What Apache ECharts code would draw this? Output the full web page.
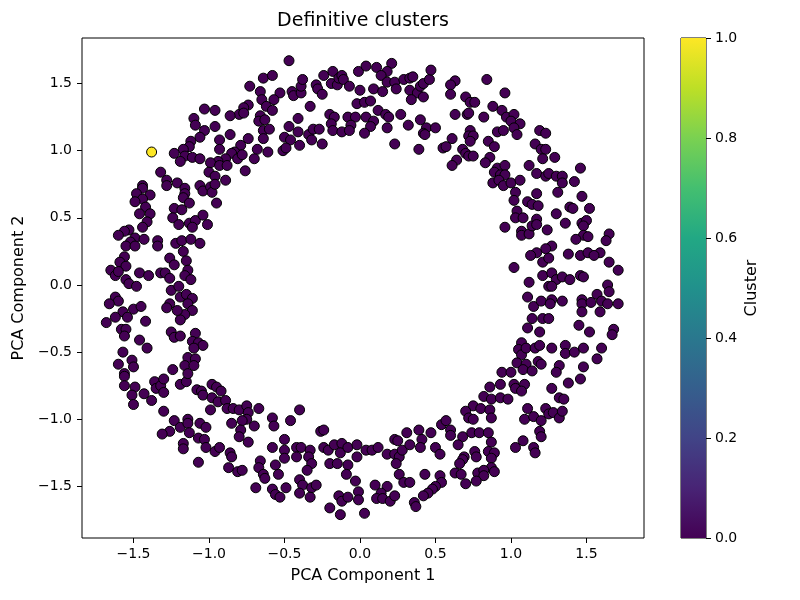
<!DOCTYPE html>
<html>
<head>
<meta charset="utf-8">
<title>Definitive clusters</title>
<script src="https://cdn.jsdelivr.net/npm/echarts@6/dist/echarts.min.js"></script>
<style>
    html, body { margin: 0; padding: 0; background: #fff; }
    #chart { width: 800px; height: 600px; }
</style>
</head>
<body>
<div id="chart"></div>
<script>
// PCA coordinates
const cluster0Points = [
    [-0.64, 1.54], [-0.73, 1.48], [-0.66, 1.44], [-0.65, 1.38], [-0.62, 1.33], [-0.74, 1.34], [-0.77, 1.32], [-0.80, 1.27], [-0.77, 1.28], [-0.86, 1.26],
    [-0.66, 1.26], [-0.67, 1.22], [-0.63, 1.23], [-0.64, 1.15], [-0.60, 1.16], [-1.03, 1.31], [-0.96, 1.30], [-1.10, 1.24], [-1.09, 1.19], [-0.96, 1.18],
    [-1.03, 1.15], [-1.06, 1.10], [-1.12, 1.07], [-1.13, 1.03], [-1.17, 1.01], [-1.23, 0.98], [-1.16, 0.96], [-1.19, 0.92], [-1.11, 0.95], [-1.06, 0.94],
    [-0.93, 1.08], [-0.86, 1.12], [-0.74, 1.09], [-0.93, 1.01], [-0.79, 1.04], [-0.83, 0.99], [-0.85, 0.98], [-0.89, 0.94], [-0.94, 0.92], [-0.99, 0.91],
    [-0.93, 0.89], [-0.88, 0.89], [-0.81, 0.94], [-0.78, 0.97], [-0.68, 1.01], [-0.61, 0.99], [-0.70, 0.94], [-0.64, 1.09], [-0.76, 0.85], [-1.00, 0.84],
    [-0.96, 0.81], [-0.89, 0.78], [-1.32, 0.84], [-1.28, 0.78], [-1.28, 0.74], [-1.21, 0.76], [-1.16, 0.72], [-1.16, 0.68], [-1.17, 0.65], [-1.13, 0.61],
    [-1.06, 0.74], [-1.04, 0.70], [-0.99, 0.73], [-0.98, 0.69], [-0.96, 0.75], [-0.95, 0.61], [-1.44, 0.74], [-1.44, 0.72], [-1.48, 0.68], [-1.39, 0.67],
    [-1.44, 0.64], [-1.49, 0.62], [-1.42, 0.58], [-1.23, 0.57], [-1.18, 0.56],
    [-0.47, 1.67], [-0.58, 1.56], [-0.53, 1.43], [-0.57, 1.38], [-0.58, 1.30], [-0.45, 1.44], [-0.44, 1.41], [-0.39, 1.43], [-0.39, 1.48], [-0.38, 1.53],
    [-0.29, 1.49], [-0.28, 1.46], [-0.25, 1.42], [-0.24, 1.56], [-0.18, 1.59], [-0.19, 1.50], [-0.15, 1.49], [-0.14, 1.54], [-0.12, 1.56], [-0.11, 1.53],
    [-0.07, 1.48], [-0.01, 1.59], [0.04, 1.63], [0.11, 1.62], [0.21, 1.65], [0.18, 1.59], [0.14, 1.56], [0.18, 1.51], [0.23, 1.51], [0.24, 1.46],
    [0.29, 1.53], [0.33, 1.54], [0.35, 1.55], [0.33, 1.45], [0.38, 1.43], [0.34, 1.38], [0.42, 1.40], [0.40, 1.48], [0.42, 1.50], [0.46, 1.53],
    [0.47, 1.60], [0.09, 1.46], [0.00, 1.45], [0.15, 1.44], [-0.02, 1.35], [0.03, 1.36], [0.07, 1.37], [-0.33, 1.33], [-0.41, 1.24], [-0.47, 1.18],
    [-0.41, 1.14], [-0.50, 1.10], [-0.46, 1.08], [-0.51, 1.00], [-0.49, 1.02], [-0.40, 1.04], [-0.34, 1.12], [-0.31, 1.16], [-0.32, 1.08], [-0.27, 1.16],
    [-0.25, 1.05], [-0.20, 1.27], [-0.17, 1.25], [-0.19, 1.20], [-0.18, 1.15], [-0.12, 1.14], [-0.08, 1.25], [-0.03, 1.25], [-0.06, 1.19], [-0.07, 1.15],
    [0.04, 1.25], [0.09, 1.22], [0.07, 1.18], [0.03, 1.13], [0.12, 1.30], [0.17, 1.27], [0.19, 1.25], [0.18, 1.17], [0.27, 1.27], [0.32, 1.19],
    [0.40, 1.23], [0.44, 1.17], [0.42, 1.13], [0.43, 1.12], [0.50, 1.17], [0.23, 1.05], [0.39, 1.01], [0.55, 1.02],
    [0.63, 1.52], [0.60, 1.49], [0.60, 1.42], [0.84, 1.53], [0.70, 1.40], [0.73, 1.36], [0.76, 1.36], [0.96, 1.43], [0.63, 1.27], [0.71, 1.27],
    [0.72, 1.28], [0.82, 1.25], [0.88, 1.33], [0.94, 1.30], [0.97, 1.25], [1.02, 1.27], [1.00, 1.22], [1.06, 1.20], [1.02, 1.17], [1.04, 1.12],
    [0.91, 1.14], [0.95, 1.15], [1.19, 1.15], [1.23, 1.13], [0.73, 1.15], [0.72, 1.11], [0.75, 1.11], [0.61, 1.09], [0.57, 1.03], [0.73, 1.07],
    [0.85, 1.07], [0.89, 1.03], [0.68, 1.01], [0.70, 0.98], [0.72, 0.96], [0.75, 0.96], [0.64, 0.93], [0.61, 0.89], [0.86, 0.95], [0.83, 0.91],
    [0.91, 0.87], [0.89, 0.84], [0.96, 0.89], [0.93, 0.82], [0.96, 0.82], [0.88, 0.76], [0.92, 0.78], [0.95, 0.74], [1.00, 0.76], [1.06, 0.78],
    [1.03, 0.69], [1.02, 0.63], [1.11, 0.62], [1.14, 0.60], [1.18, 0.59], [1.17, 0.68], [1.16, 1.05], [1.20, 1.01], [1.23, 1.01], [1.21, 0.94],
    [1.29, 0.95], [1.12, 0.89], [1.17, 0.83], [1.23, 0.81], [1.25, 0.83], [1.30, 0.81], [1.34, 0.81], [1.34, 0.76], [1.31, 0.69], [1.42, 0.77],
    [1.46, 0.87], [1.47, 0.66], [1.39, 0.58], [1.41, 0.57], [1.52, 0.57],
    [-1.46, 0.53], [-1.39, 0.53], [-1.41, 0.47], [-1.44, 0.43], [-1.24, 0.50], [-1.20, 0.45], [-1.13, 0.46], [-1.09, 0.48], [-1.04, 0.52], [-1.11, 0.43],
    [-1.01, 0.45], [-1.53, 0.41], [-1.56, 0.40], [-1.60, 0.37], [-1.49, 0.35], [-1.52, 0.32], [-1.55, 0.29], [-1.49, 0.29], [-1.43, 0.34], [-1.34, 0.33],
    [-1.34, 0.29], [-1.22, 0.31], [-1.18, 0.33], [-1.12, 0.34], [-1.06, 0.31], [-1.17, 0.25], [-1.56, 0.21], [-1.59, 0.17], [-1.55, 0.14], [-1.26, 0.20],
    [-1.23, 0.15], [-1.15, 0.18], [-1.14, 0.11], [-1.65, 0.11], [-1.62, 0.07], [-1.60, 0.10], [-1.46, 0.09], [-1.40, 0.07], [-1.32, 0.09], [-1.29, 0.09],
    [-1.26, 0.05], [-1.16, 0.07], [-1.12, 0.04], [-1.55, 0.04], [-1.53, 0.01], [-1.48, -0.01], [-1.25, -0.04], [-1.20, -0.01], [-1.19, -0.09], [-1.15, -0.07],
    [-1.11, -0.10], [-1.14, -0.14], [-1.11, -0.19], [-1.16, -0.22], [-1.19, -0.26], [-1.26, -0.14], [-1.28, -0.17], [-1.21, -0.19], [-1.62, -0.09], [-1.60, -0.12],
    [-1.66, -0.14], [-1.57, -0.20], [-1.62, -0.24], [-1.54, -0.24], [-1.68, -0.28], [-1.50, -0.18], [-1.45, -0.16], [-1.42, -0.27], [-1.58, -0.33], [-1.55, -0.33],
    [-1.56, -0.38], [-1.46, -0.41], [-1.41, -0.47], [-1.25, -0.35], [-1.23, -0.39], [-1.19, -0.38], [-1.09, -0.36], [-1.11, -0.42], [-1.07, -0.43], [-1.04, -0.45],
    [-1.10, -0.47], [-1.57, -0.50], [-1.51, -0.56], [-1.60, -0.59], [-1.50, -0.61], [-1.14, -0.54], [-1.09, -0.55], [-1.16, -0.60], [-1.10, -0.60], [-1.24, -0.63],
    [1.04, 0.55], [1.03, 0.50], [1.08, 0.50], [0.96, 0.43], [1.07, 0.40], [1.07, 0.37], [1.12, 0.38], [1.14, 0.44], [1.17, 0.49], [1.17, 0.45],
    [1.24, 0.41], [1.30, 0.53], [1.36, 0.46], [1.47, 0.46], [1.50, 0.48], [1.48, 0.44], [1.48, 0.37], [1.43, 0.34], [1.51, 0.36], [1.65, 0.38],
    [1.63, 0.33], [1.27, 0.29], [1.23, 0.27], [1.17, 0.24], [1.13, 0.22], [1.21, 0.17], [1.25, 0.20], [1.38, 0.23], [1.46, 0.22], [1.51, 0.24],
    [1.59, 0.24], [1.55, 0.22], [1.65, 0.17], [1.71, 0.11], [1.02, 0.13], [1.12, 0.02], [1.21, 0.07], [1.27, 0.09], [1.30, 0.04], [1.34, 0.06],
    [1.39, 0.04], [1.46, 0.07], [1.48, 0.06], [1.25, -0.01], [1.27, -0.01], [1.64, 0.00], [1.65, -0.05], [1.11, -0.09], [1.15, -0.16], [1.20, -0.12],
    [1.27, -0.11], [1.26, -0.14], [1.34, -0.12], [1.47, -0.11], [1.47, -0.14], [1.53, -0.13], [1.57, -0.07], [1.60, -0.12], [1.64, -0.14], [1.71, -0.14],
    [1.59, -0.20], [1.47, -0.20], [1.14, -0.25], [1.21, -0.25], [1.25, -0.25], [1.11, -0.32], [1.19, -0.35], [1.45, -0.30], [1.52, -0.35], [1.68, -0.33],
    [1.67, -0.37], [1.07, -0.43], [1.05, -0.48], [1.07, -0.52], [1.10, -0.47], [1.16, -0.47], [1.19, -0.45], [1.27, -0.47], [1.36, -0.45], [1.36, -0.51],
    [1.42, -0.50], [1.48, -0.47], [1.60, -0.47], [1.57, -0.55], [1.04, -0.58], [1.10, -0.59], [1.18, -0.57], [1.20, -0.59], [1.32, -0.60], [1.48, -0.61],
    [-1.56, -0.66], [-1.56, -0.68], [-1.56, -0.75], [-1.49, -0.76], [-1.51, -0.82], [-1.50, -0.89], [-1.43, -0.81], [-1.38, -0.86], [-1.36, -0.72], [-1.35, -0.77],
    [-1.32, -0.75], [-1.30, -0.70], [-1.30, -0.80], [-1.19, -0.74], [-1.15, -0.72], [-1.14, -0.66], [-1.30, -0.94], [-1.08, -0.78], [-1.05, -0.79], [-1.04, -0.82],
    [-0.98, -0.74], [-0.95, -0.76], [-0.92, -0.79], [-0.98, -0.84], [-0.94, -0.87], [-0.89, -0.86], [-0.99, -0.93], [-0.88, -0.92], [-0.84, -0.92], [-0.80, -0.93],
    [-0.75, -0.90], [-0.74, -0.95], [-0.67, -0.92], [-0.75, -1.00], [-0.78, -1.01], [-0.85, -1.03], [-0.79, -1.08], [-0.80, -1.13], [-0.70, -1.05], [-0.74, -1.17],
    [-1.23, -1.01], [-1.26, -1.09], [-1.31, -1.11], [-1.19, -1.06], [-1.14, -1.00], [-1.14, -1.03], [-1.13, -1.10], [-1.06, -1.03], [-1.02, -1.06], [-1.07, -1.14],
    [-1.03, -1.15], [-1.02, -1.21], [-1.17, -1.18], [-1.17, -1.22], [-0.96, -1.24], [-0.93, -1.21], [-0.86, -1.25], [-0.85, -1.28], [-0.87, -1.36], [-0.81, -1.39],
    [-0.78, -1.38], [-1.07, -1.32], [-0.66, -1.31], [-0.67, -1.36], [-0.64, -1.41], [-0.63, -1.44], [-0.69, -1.51],
    [-0.40, -0.93], [-0.58, -0.99], [-0.57, -1.05], [-0.46, -1.01], [-0.26, -1.09], [-0.24, -1.08], [-0.58, -1.21], [-0.50, -1.15], [-0.50, -1.23], [-0.50, -1.29],
    [-0.42, -1.21], [-0.39, -1.21], [-0.42, -1.28], [-0.33, -1.23], [-0.34, -1.28], [-0.32, -1.33], [-0.56, -1.34], [-0.54, -1.41], [-0.35, -1.38], [-0.40, -1.45],
    [-0.38, -1.49], [-0.32, -1.51], [-0.29, -1.49], [-0.40, -1.55], [-0.33, -1.58], [-0.58, -1.52], [-0.56, -1.56], [-0.53, -1.58], [-0.49, -1.51], [-0.24, -1.21],
    [-0.21, -1.23], [-0.17, -1.19], [-0.12, -1.18], [-0.13, -1.25], [-0.08, -1.21], [-0.20, -1.33], [-0.15, -1.33], [-0.08, -1.34], [-0.09, -1.41], [-0.02, -1.19],
    [-0.02, -1.28], [0.04, -1.23], [0.08, -1.23], [0.12, -1.21], [-0.03, -1.46], [-0.01, -1.54], [-0.14, -1.57], [-0.12, -1.61], [-0.08, -1.58], [-0.01, -1.60],
    [-0.20, -1.66], [-0.13, -1.71], [0.03, -1.70], [0.10, -1.49], [0.18, -1.50], [0.14, -1.55], [0.11, -1.59], [0.15, -1.59], [0.20, -1.61], [0.23, -1.57],
    [0.18, -1.26], [0.23, -1.15], [0.25, -1.16], [0.23, -1.26], [0.26, -1.28], [0.24, -1.33], [0.28, -1.23], [0.31, -1.10], [0.33, -1.19], [0.39, -1.08],
    [0.41, -1.15], [0.40, -1.21], [0.47, -1.10], [0.50, -1.21], [0.53, -1.26], [0.54, -1.04], [0.26, -1.41], [0.29, -1.47], [0.33, -1.47], [0.43, -1.41],
    [0.53, -1.42], [0.54, -1.47], [0.50, -1.50], [0.48, -1.52], [0.45, -1.55], [0.42, -1.57], [0.36, -1.62], [0.37, -1.65],
    [0.94, -0.65], [1.00, -0.65], [1.08, -0.63], [1.14, -0.64], [1.30, -0.65], [1.46, -0.70], [1.38, -0.73], [1.27, -0.77], [1.32, -0.84], [1.35, -0.85],
    [0.86, -0.76], [0.93, -0.74], [1.02, -0.74], [1.09, -0.74], [1.03, -0.77], [1.07, -0.79], [0.82, -0.83], [0.87, -0.85], [0.93, -0.84], [0.98, -0.85],
    [0.75, -0.90], [0.80, -0.92], [0.70, -0.94], [0.72, -0.99], [0.75, -1.00], [0.86, -0.93], [0.87, -0.99], [0.57, -1.01], [0.60, -1.08], [0.60, -1.12],
    [0.68, -1.13], [0.65, -1.19], [0.74, -1.10], [0.79, -1.10], [0.85, -1.10], [0.87, -1.17], [1.11, -0.92], [1.09, -1.00], [1.15, -0.98], [1.20, -1.01],
    [1.23, -0.92], [1.25, -0.96], [1.28, -0.95], [1.32, -0.99], [1.34, -0.94], [1.19, -1.09], [1.20, -1.13], [1.08, -1.16], [1.03, -1.21], [1.15, -1.21],
    [1.16, -1.25], [0.76, -1.24], [0.77, -1.28], [0.69, -1.28], [0.68, -1.30], [0.66, -1.33], [0.85, -1.24], [0.89, -1.25], [0.87, -1.29], [0.87, -1.36],
    [0.89, -1.39], [0.63, -1.40], [0.67, -1.41], [0.78, -1.40], [0.82, -1.38], [0.82, -1.42], [0.77, -1.46], [0.70, -1.48],
];
const cluster1Points = [
    [-1.38, 0.99],
];

const xTicks = [-1.5, -1.0, -0.5, 0.0, 0.5, 1.0, 1.5];
const yTicks = [-1.5, -1.0, -0.5, 0.0, 0.5, 1.0, 1.5];
const colorbarTicks = [0.0, 0.2, 0.4, 0.6, 0.8, 1.0];
const colorbarValue = [1];

const viridis = ['#440154', '#482475', '#414487', '#355f8d', '#2a788e', '#21918c',
    '#22a884', '#44bf70', '#7ad151', '#bddf26', '#fde725'];

const font = 'DejaVu Sans';

function fmtTick(v) {
    const s = Math.abs(v).toFixed(1);
    return v < 0 ? '\u2212' + s : s;
}

const chart = echarts.init(document.getElementById('chart'));
chart.setOption({
    backgroundColor: '#fff',
    animation: false,
    title: {
        text: 'Definitive clusters',
        left: 363,
        top: 12,
        padding: 0,
        textAlign: 'center',
        textStyle: {
            color: '#000',
            fontFamily: font,
            fontSize: 19,
            fontWeight: 'normal',
        },
    },
    grid: [
        {
            left: 82,
            top: 38,
            width: 562,
            height: 500,
            show: true,
            borderColor: '#000',
            borderWidth: 1,
            backgroundColor: '#fff',
        },
        {
            left: 681,
            top: 38,
            width: 25,
            height: 500,
            show: true,
            borderColor: '#000',
            borderWidth: 1,
            backgroundColor: 'transparent',
        },
    ],
    xAxis: [
        {
            type: 'value',
            min: -1.841,
            max: 1.881,
            name: 'PCA Component 1',
            nameLocation: 'middle',
            nameGap: 30,
            nameTextStyle: {color: '#000', fontFamily: font, fontSize: 16},
            axisLine: {show: false, onZero: false},
            axisTick: {
                show: true,
                length: 5,
                customValues: xTicks,
                lineStyle: {color: '#000'},
            },
            axisLabel: {
                customValues: xTicks,
                margin: 9,
                color: '#000',
                fontFamily: font,
                fontSize: 14,
                formatter: fmtTick,
            },
            splitLine: {show: false},
        },
        {
            gridIndex: 1,
            type: 'category',
            data: ['cluster'],
            show: false,
        },
    ],
    yAxis: [
        {
            type: 'value',
            min: -1.884,
            max: 1.839,
            name: 'PCA Component 2',
            nameLocation: 'middle',
            nameRotate: 90,
            nameGap: 47,
            nameTextStyle: {color: '#000', fontFamily: font, fontSize: 16},
            axisLine: {show: false, onZero: false},
            axisTick: {
                show: true,
                length: 5,
                customValues: yTicks,
                lineStyle: {color: '#000'},
            },
            axisLabel: {
                customValues: yTicks,
                margin: 10,
                color: '#000',
                fontFamily: font,
                fontSize: 14,
                formatter: fmtTick,
            },
            splitLine: {show: false},
        },
        {
            gridIndex: 1,
            type: 'value',
            position: 'right',
            min: 0,
            max: 1,
            name: 'Cluster',
            nameLocation: 'middle',
            nameRotate: 90,
            nameGap: 38,
            nameTextStyle: {color: '#000', fontFamily: font, fontSize: 16},
            axisLine: {show: false, onZero: false},
            axisTick: {
                show: true,
                length: 5,
                customValues: colorbarTicks,
                lineStyle: {color: '#000'},
            },
            axisLabel: {
                customValues: colorbarTicks,
                margin: 9,
                color: '#000',
                fontFamily: font,
                fontSize: 14,
                formatter: (v) => v.toFixed(1),
            },
            splitLine: {show: false},
        },
    ],
    series: [
        {
            type: 'scatter',
            name: 'cluster 0',
            xAxisIndex: 0,
            yAxisIndex: 0,
            symbolSize: 10,
            itemStyle: {
                color: viridis[0],
                borderColor: '#000',
                borderWidth: 1,
                opacity: 1,
            },
            data: cluster0Points,
        },
        {
            type: 'scatter',
            name: 'cluster 1',
            xAxisIndex: 0,
            yAxisIndex: 0,
            symbolSize: 10,
            itemStyle: {
                color: viridis[viridis.length - 1],
                borderColor: '#000',
                borderWidth: 1,
                opacity: 1,
            },
            data: cluster1Points,
        },
        {
            type: 'bar',
            name: 'colorbar',
            xAxisIndex: 1,
            yAxisIndex: 1,
            barWidth: '100%',
            silent: true,
            itemStyle: {
                color: {
                    type: 'linear',
                    x: 0,
                    y: 1,
                    x2: 0,
                    y2: 0,
                    colorStops: viridis.map((c, i) => ({offset: i / (viridis.length - 1), color: c})),
                },
            },
            data: colorbarValue,
        },
    ],
});
</script>
</body>
</html>
